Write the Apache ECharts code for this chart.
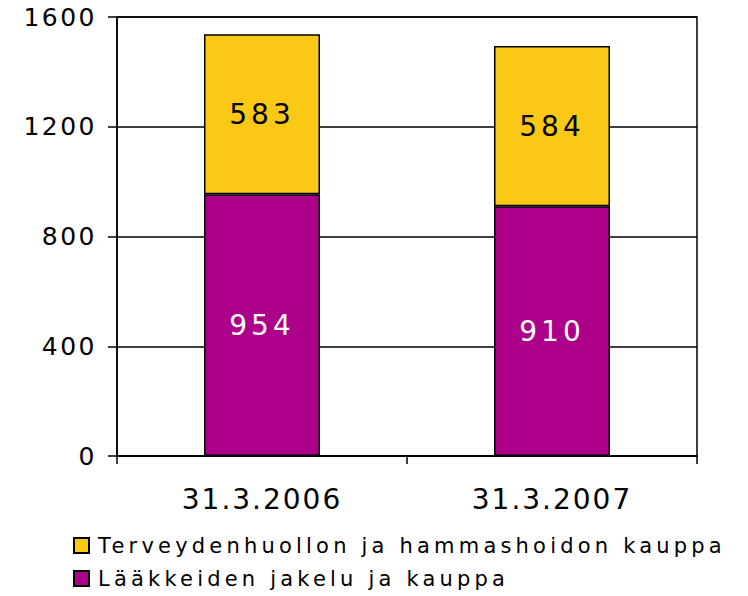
<!DOCTYPE html>
<html>
<head>
<meta charset="utf-8">
<script src="https://cdn.jsdelivr.net/npm/echarts@6/dist/echarts.min.js"></script>
<style>
html,body{margin:0;padding:0;background:#fff;}
#chart{width:748px;height:596px;}
</style>
</head>
<body>
<div id="chart"></div>
<script>
const categories = ['31.3.2006', '31.3.2007'];
const seriesNames = ['Lääkkeiden jakelu ja kauppa', 'Terveydenhuollon ja hammashoidon kauppa'];
const laakeValues = [954, 910];
const terveysValues = [583, 584];
const yTicks = [0, 400, 800, 1200, 1600];

const chart = echarts.init(document.getElementById('chart'), null, {renderer: 'svg'});
const font = 'DejaVu Sans';
chart.setOption({
  animation: false,
  textStyle: {fontFamily: font},
  grid: {left: 117, right: 51, top: 17, bottom: 140, show: true, borderColor: '#000', borderWidth: 1.5},
  legend: {
    orient: 'vertical', left: 68, top: 530, itemWidth: 15, itemHeight: 15, itemGap: 12,
    data: [seriesNames[1], seriesNames[0]],
    textStyle: {fontFamily: font, fontSize: 21, color: '#000', padding: [0,0,0,4]},
    icon: 'rect'
  },
  xAxis: {
    type: 'category', data: categories,
    axisLine: {lineStyle: {color: '#000', width: 1.5}},
    axisTick: {show: true, length: 8, lineStyle: {color: '#000', width: 1.5}},
    axisLabel: {color: '#000', fontSize: 28, margin: 29, fontFamily: font}
  },
  yAxis: {
    type: 'value', min: yTicks[0], max: yTicks[yTicks.length-1], interval: 400,
    axisLine: {show: true, lineStyle: {color: '#000', width: 1.5}},
    axisTick: {show: true, length: 9, lineStyle: {color: '#000', width: 1.5}},
    splitLine: {lineStyle: {color: '#000', width: 1.5}},
    axisLabel: {color: '#000', fontSize: 25, margin: 20, fontFamily: font, formatter: v => String(v)}
  },
  series: [
    {
      name: seriesNames[0], type: 'bar', stack: 's', data: laakeValues, barWidth: '40%',
      itemStyle: {color: '#AD008A', borderColor: '#000', borderWidth: 1.5},
      label: {show: true, position: 'inside', color: '#fff', fontSize: 28, fontFamily: font}
    },
    {
      name: seriesNames[1], type: 'bar', stack: 's', data: terveysValues, barWidth: '40%',
      itemStyle: {color: '#FCC816', borderColor: '#000', borderWidth: 1.5},
      label: {show: true, position: 'inside', color: '#000', fontSize: 28, fontFamily: font}
    }
  ]
});

function spaceText() {
  const texts = document.querySelectorAll('#chart text');
  texts.forEach(t => {
    const s = t.textContent.trim();
    let sp = 2.5;
    if (seriesNames.includes(s)) sp = 4.2;
    else if (categories.includes(s)) sp = 2;
    else if (laakeValues.map(String).includes(s) || terveysValues.map(String).includes(s)) sp = 4;
    t.style.letterSpacing = sp + 'px';
  });
}
chart.on('finished', spaceText);
spaceText();
setTimeout(spaceText, 50);
</script>
</body>
</html>
